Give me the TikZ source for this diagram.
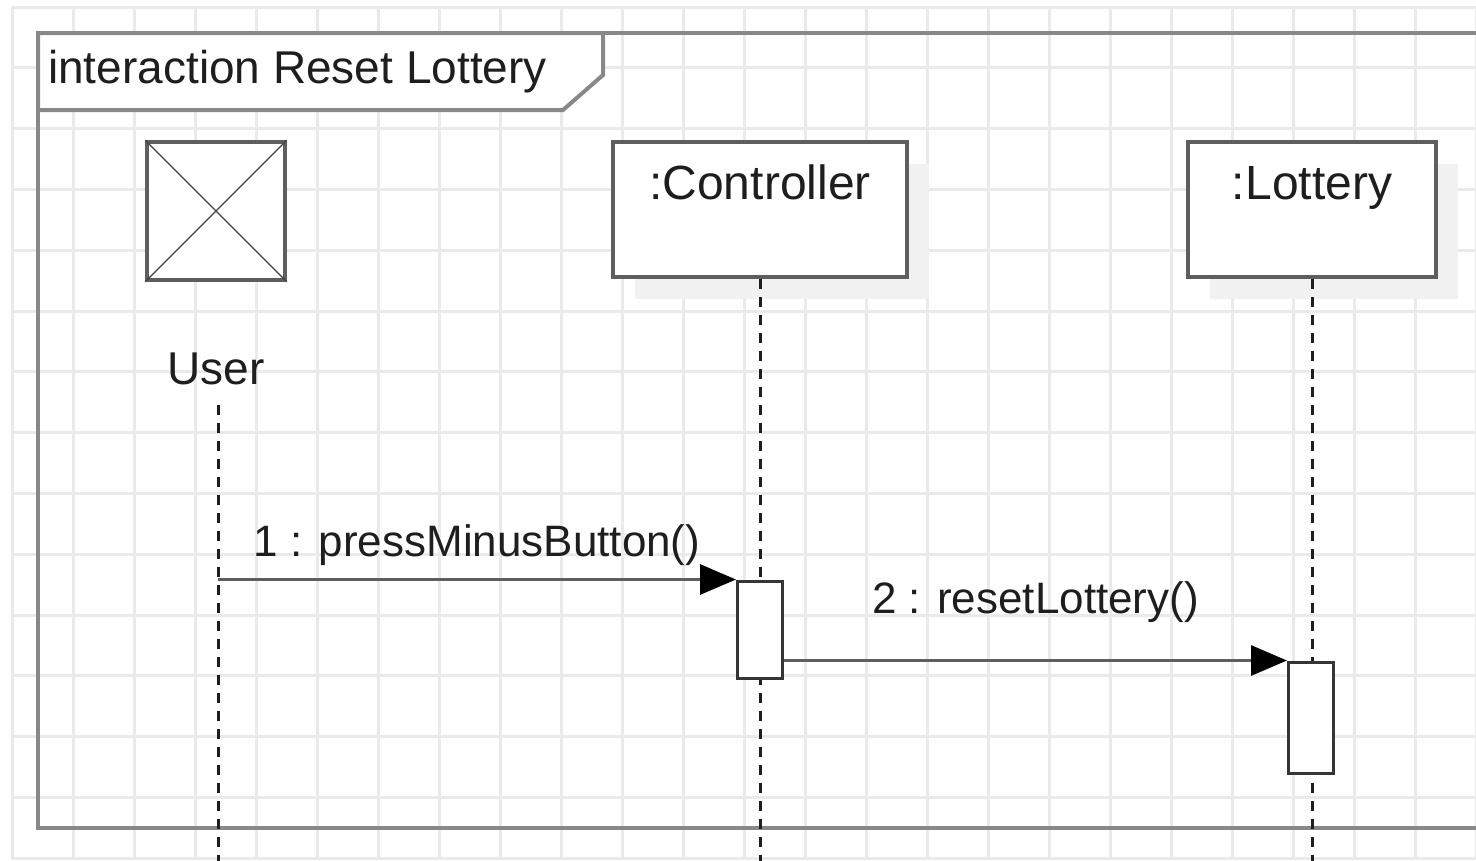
\documentclass[tikz,border=0pt]{standalone}
\usepackage{fontspec}
\setmainfont{Liberation Sans}
\usetikzlibrary{arrows.meta,positioning,shadows}
\definecolor{gridgray}{HTML}{EAEAEA}
\definecolor{framegray}{HTML}{888888}
\definecolor{boxgray}{HTML}{5E5E5E}
\definecolor{shadowgray}{HTML}{F1F1F1}
\definecolor{inkgray}{HTML}{1E1E1E}

\begin{document}
\begin{tikzpicture}[x=1pt,y=-1pt,
    gridline/.style={draw=gridgray, line width=3pt},
    frame/.style={draw=framegray, line width=4pt},
    objbox/.style={rectangle, draw=boxgray, fill=white, line width=3.5pt, minimum height=135pt, inner sep=0pt,
        drop shadow={shadow xshift=22pt, shadow yshift=-22pt, fill=shadowgray, opacity=1}},
    actorbox/.style={rectangle, draw=boxgray, fill=white, line width=3.5pt, minimum width=138pt, minimum height=138pt, inner sep=0pt},
    actbox/.style={rectangle, draw=inkgray!90, fill=white, line width=3pt, minimum width=45pt, inner sep=0pt},
    lifeline/.style={draw=inkgray, line width=3pt, dash pattern=on 10pt off 8pt},
    msg/.style={draw=boxgray, line width=3pt, -{Triangle[length=36pt,width=30pt,black]}},
    lbl/.style={text=inkgray, inner sep=0pt, font=\fontsize{46}{55}\selectfont},
    msglabel/.style={text=inkgray, inner sep=0pt, font=\fontsize{44}{53}\selectfont}]

    \useasboundingbox (0,0) rectangle (1476,860);
    \clip (0,0) rectangle (1476,860);

    % Background grid
    \foreach \gx in {0,...,24}
        \draw[gridline] (12+61*\gx,7) -- (12+61*\gx,860);
    \foreach \gy in {0,...,14}
        \draw[gridline] (12,7+60.8*\gy) -- (1476,7+60.8*\gy);

    % Interaction frame
    \draw[frame] (38,33) rectangle (1500,828);
    \draw[frame, fill=white] (38,33) -- (603,33) -- (603,75) -- (563,110) -- (38,110) -- cycle;
    \node[lbl, anchor=base west] (title) at (48,83) {interaction Reset Lottery};

    % Participants
    \node[actorbox] (user) at (216,211) {};
    \draw[boxgray!70!black, line width=1.4pt] (user.north west) -- (user.south east)
        (user.north east) -- (user.south west);
    \node[lbl, anchor=base] (userlbl) at (216,384) {User};

    \node[objbox, minimum width=294pt] (ctrl) at (760,209.5) {};
    \node[lbl, anchor=base, font=\fontsize{48}{56}\selectfont] (ctrllbl) at ([yshift=-59pt]ctrl.north) {:Controller};

    \node[objbox, minimum width=248pt] (lot) at (1312,209.5) {};
    \node[lbl, anchor=base, font=\fontsize{48}{56}\selectfont] (lotlbl) at ([yshift=-59pt]lot.north) {:Lottery};

    % Lifelines
    \coordinate (userTop) at (218,405);
    \coordinate (userEnd) at (218,862);
    \draw[lifeline] (userTop) -- (userEnd);
    \draw[lifeline] (ctrl.south) -- (ctrl.south |- userEnd);
    \draw[lifeline] (lot.south) -- (lot.south |- userEnd);

    % Activations
    \node[actbox, minimum height=97pt] (act1) at (760,629.5) {};
    \node[actbox, minimum height=111pt] (act2) at (1311,717.5) {};

    % Messages
    \draw[msg] (userTop |- act1.north) -- (act1.north west)
        node[msglabel, midway, anchor=base, yshift=23pt] {1 : pressMinusButton()};
    \draw[msg] (act1.east |- act2.north) -- (act2.north west)
        node[msglabel, midway, anchor=base, yshift=47pt] {2 : resetLottery()};
\end{tikzpicture}
\end{document}
